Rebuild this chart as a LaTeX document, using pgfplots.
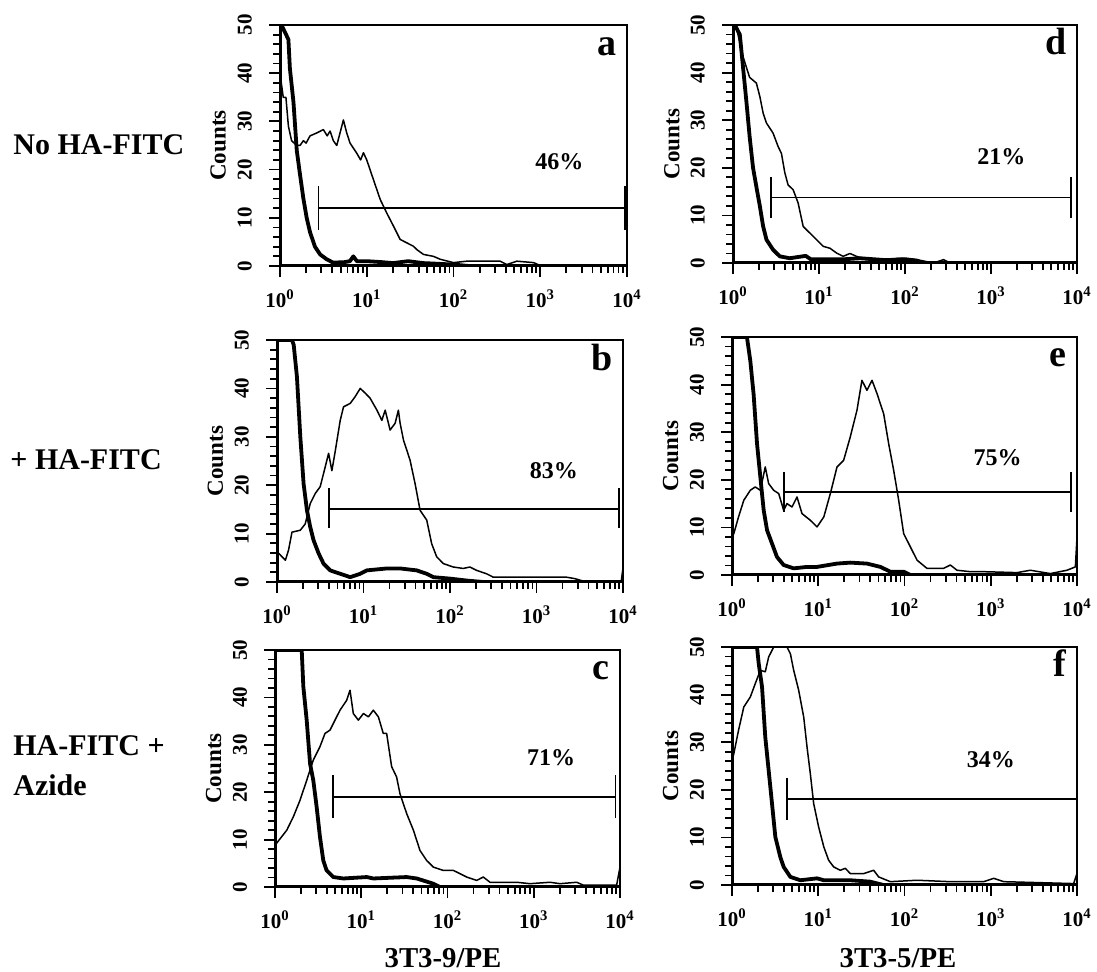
\documentclass[border=0pt]{standalone}
\usepackage{fontspec}
\setmainfont{Liberation Serif}
\usepackage{pgfplots}
\pgfplotsset{compat=1.18}

\pgfplotsset{every axis/.append style={
    scale only axis,
    anchor=south west,
    xmode=log,
    xmin=1, xmax=10000, ymin=0, ymax=50,
    xtick={1,10,100,1000,10000},
    xticklabels={10\textsuperscript{0},10\textsuperscript{1},10\textsuperscript{2},10\textsuperscript{3},10\textsuperscript{4}},
    minor xtick={2,3,4,5,6,7,8,9,20,30,40,50,60,70,80,90,200,300,400,500,600,700,800,900,2000,3000,4000,5000,6000,7000,8000,9000},
    ytick={0,10,20,30,40,50}, yticklabels={0,10,20,30,40,50},
    minor ytick={2,4,6,8,12,14,16,18,22,24,26,28,32,34,36,38,42,44,46,48},
    tick align=outside,
    xtick pos=bottom, ytick pos=left,
    major tick length=5.5pt, minor tick length=3.5pt,
    tick style={black, line width=0.9pt},
    xticklabel style={font=\fontsize{10.5}{11}\selectfont\bfseries, yshift=-3pt},
    yticklabel style={font=\fontsize{10.5}{11}\selectfont\bfseries, rotate=90, anchor=south, yshift=5pt},
    ylabel={Counts},
    ylabel style={font=\fontsize{11.5}{12}\selectfont\bfseries, at={(axis description cs:-0.178,0.5)}, anchor=center},
    axis line style={line width=1pt},
}}
\tikzset{
  ctrl/.style={black, line width=1.9pt, line join=round},
  samp/.style={black, line width=0.75pt, line join=round},
  gate/.style={black, line width=0.7pt},
}

% gate: x left, x right, y, tick low, tick high
\newcommand{\gate}[5]{%
  \addplot[gate] coordinates {(#1,#3) (#2,#3)};
  \addplot[gate] coordinates {(#1,#4) (#1,#5)};
  \addplot[gate] coordinates {(#2,#4) (#2,#5)};
}
\newcommand{\panel}[1]{%
  \draw[line width=2pt] (rel axis cs:0,1) -- (rel axis cs:0,0) -- (rel axis cs:1,0);
  \node[anchor=base east, inner sep=0pt, font=\fontsize{19}{20}\selectfont\bfseries] at (rel axis cs:0.97,0.875) {#1};}
\newcommand{\pct}[3]{\node[font=\fontsize{12}{13}\selectfont\bfseries] at (axis cs:#1,#2) {#3};}

\begin{document}
\begin{tikzpicture}
\useasboundingbox (0,0) rectangle (548.5pt,485.5pt);

% ---- a ----
\begin{axis}[at={(140pt,352.5pt)}, width=173.5pt, height=120.5pt]
\addplot[samp] coordinates {(1,40)(1.09,35)(1.17,35)(1.25,29)(1.36,26)(1.56,25)(1.70,25)(1.86,26)(2.0,25.5)(2.22,27)(2.65,27.6)(3.16,28.3)(3.5,27)(3.78,28)(4.12,26)(4.51,25)(4.92,27.6)(5.38,30.3)(5.88,27.6)(6.42,25.5)(7.67,23.4)(8.5,22)(9.16,23.5)(10,22)(11.9,18)(14.3,13.8)(17.0,11)(20.3,8.3)(24.3,5.5)(29,4.8)(34.5,4.1)(37.8,3.4)(45.1,2.4)(58.8,2)(70.2,1.4)(100,0.7)(142,1)(345,1)(412,0.3)(537,1)(838,0.7)(1000,0.1)(10000,0)};
\addplot[ctrl] coordinates {(1,50)(1.04,50)(1.25,47)(1.30,41)(1.43,34)(1.56,24)(1.70,19)(1.86,14)(2.03,10)(2.22,7)(2.53,4)(2.9,2.4)(3.45,1.4)(4.1,0.7)(5.5,0.8)(6.4,1)(7,2)(7.7,1)(10,1)(15,0.8)(20,0.6)(30,1)(45,0.6)(60,0.5)(100,0.3)(150,0)(10000,0)};
\gate{2.8}{9500}{12.0}{7.5}{16.5}
\pct{1660}{21.6}{46\%}
\panel{a}
\end{axis}

% ---- d ----
\begin{axis}[at={(366.5pt,354pt)}, width=172pt, height=119pt]
\addplot[samp] coordinates {(1,50)(1.11,49)(1.31,43.3)(1.56,39)(1.87,37.8)(2.05,35)(2.24,31.5)(2.45,29.4)(2.92,27.3)(3.34,24.5)(3.66,23)(4.0,19)(4.37,16.4)(5.0,15.4)(5.72,12.6)(6.54,7.7)(7.82,6.3)(9.35,4.9)(11.2,3.5)(13.4,3.1)(16,2.1)(19.1,1.4)(22.9,2)(27.3,1.4)(35.8,0.7)(55.9,0.7)(87.4,1)(137,0.7)(214,0)(280,0.7)(334,0)(10000,0)};
\addplot[ctrl] coordinates {(1,50)(1.05,50)(1.20,48)(1.31,41)(1.43,34)(1.56,26.6)(1.71,20)(1.87,16)(2.05,12)(2.24,7.7)(2.45,4.9)(2.92,2.8)(3.5,1.4)(4.57,1)(7,1.5)(8,0.8)(20,0.8)(30,1)(60,0.6)(100,0.8)(137,0.5)(160,0)(10000,0)};
\gate{2.77}{8500}{13.7}{9.5}{18.1}
\pct{1318}{22.3}{21\%}
\panel{d}
\end{axis}

% ---- b ----
\begin{axis}[at={(138.5pt,194.5pt)}, width=173pt, height=121pt]
\addplot[samp] coordinates {(1,6)(1.05,5.9)(1.25,4.5)(1.36,6.6)(1.49,10.3)(1.86,10.7)(2.12,12)(2.42,16.2)(2.77,18.3)(3.16,19.7)(3.61,23.8)(3.95,26.6)(4.31,23)(4.71,27)(5.38,33.4)(5.88,36.2)(7.02,36.9)(8.01,38.3)(9.16,40)(10.5,39)(11.9,38)(14.3,35.5)(16.3,33.4)(17.8,35.5)(20.3,31.4)(23.2,32.8)(25.3,35.5)(26.5,32.8)(29,29.3)(34.5,25.2)(39.5,20.3)(45.1,14.8)(53.8,12.8)(61.4,7.9)(70.2,5.2)(83.8,3.8)(109,3.1)(142,2.8)(170,3.1)(203,2.4)(265,1.7)(316,1)(588,1)(915,1)(1425,1)(2218,1)(2768,0.7)(3454,0.2)(9550,0.2)(10000,3)};
\addplot[ctrl] coordinates {(1,50)(1.49,50)(1.56,49)(1.70,42.4)(1.86,30)(2.03,20.3)(2.22,14.8)(2.42,11.4)(2.65,8.6)(3.03,5.9)(3.45,3.8)(4.12,2.4)(5.38,1.7)(7.02,1)(9.16,1.7)(10.9,2.4)(18.6,2.8)(26.5,2.8)(41.2,2.4)(53.8,1.7)(64.2,1)(100,0.7)(156,0.3)(242,0)(10000,0)};
\gate{4.0}{8950}{15.1}{11.2}{19.4}
\pct{1585}{22.9}{83\%}
\panel{b}
\end{axis}

% ---- e ----
\begin{axis}[at={(366pt,198pt)}, width=172.5pt, height=119pt]
\addplot[samp] coordinates {(1,8)(1.05,8.7)(1.19,12.2)(1.37,15.7)(1.63,17.8)(1.86,18.5)(2.13,17.8)(2.43,22.7)(2.66,19.2)(3.04,17.8)(3.48,17.1)(3.97,13.6)(4.34,15)(4.96,14.3)(5.67,16.4)(6.48,12.9)(8.09,11.5)(9.68,10.1)(11.6,12.2)(13.8,17.1)(16.5,22.7)(19.7,24.1)(23.5,29)(28.1,34.6)(32.1,40.9)(36.7,38.8)(42,40.9)(48,38.1)(57.3,33.9)(65.5,27.6)(74.9,22)(85.6,15.7)(97.8,8.7)(117,5.9)(140,3.1)(182,1.4)(284,1.4)(340,2.1)(406,1)(580,0.7)(828,0.7)(2015,0.5)(2877,1)(4909,0.3)(7650,1)(9570,1.7)(10000,8)};
\addplot[ctrl] coordinates {(1,50)(1.49,50)(1.63,45)(1.78,38)(1.95,27.6)(2.13,20.6)(2.33,13.6)(2.55,9.4)(2.91,6.6)(3.32,3.8)(3.97,2.1)(5.19,1.4)(7.41,1.7)(9.68,1.7)(16.5,2.4)(23.5,2.6)(36.7,2.4)(52.5,1.7)(68.5,0.7)(97.8,0.7)(117,0)(10000,0)};
\gate{4.0}{8500}{17.4}{13.2}{21.6}
\pct{1202}{24.6}{75\%}
\panel{e}
\end{axis}

% ---- c ----
\begin{axis}[at={(137.5pt,42pt)}, width=172.5pt, height=118.5pt]
\addplot[samp] coordinates {(1,8.5)(1.04,9.2)(1.37,12)(1.63,14.8)(1.95,18.3)(2.33,22.5)(2.78,26.8)(3.32,29.6)(3.8,32.4)(4.34,33.1)(4.96,35.2)(5.67,37.3)(6.78,39.4)(7.41,41.5)(8.09,36.6)(9.25,35.2)(10.6,36.6)(12.1,35.9)(13.8,37.3)(15.8,35.9)(18,32.4)(19.7,32.4)(22.5,25.4)(25.7,23.2)(28.1,19.7)(33.6,15.5)(40.2,12)(48,7.7)(57.3,5.6)(68.5,4.2)(89.5,3.5)(117,3.5)(140,2.8)(167,2.1)(218,1.4)(260,2.1)(311,1)(634,1)(904,0.7)(1543,1)(2015,0.7)(3147,1)(3758,0.4)(9140,0.4)(10000,4.2)};
\addplot[ctrl] coordinates {(1,50)(2.04,50)(2.13,42.3)(2.33,35.2)(2.55,26)(2.78,22.5)(3.04,16.9)(3.32,10.6)(3.63,5.6)(3.97,3.5)(4.75,2.1)(6.2,1.8)(11.6,2.1)(13.8,1.8)(33.6,2.1)(43.9,1.8)(68.5,0.7)(81.8,0)(10000,0)};
\gate{4.7}{8900}{19.0}{14.6}{23.6}
\pct{1585}{27.2}{71\%}
\panel{c}
\end{axis}

% ---- f ----
\begin{axis}[at={(366pt,43pt)}, width=172.5pt, height=119pt]
\addplot[samp] coordinates {(1,26)(1.05,27.6)(1.19,32.5)(1.37,37.4)(1.63,39.5)(1.86,42.3)(2.13,45.1)(2.43,44.8)(2.66,47.9)(3.04,50)(4.34,50)(4.75,48.6)(5.19,45.1)(5.93,40.9)(6.78,35.3)(7.41,29)(8.09,23.4)(8.85,17.1)(10.1,12.2)(11.6,8)(13.2,5.2)(15.1,3.8)(18,3.1)(20.6,3.5)(23.5,2.4)(33.6,2.4)(43.9,3.1)(50.1,1.7)(68.5,0.7)(140,1)(340,0.7)(828,0.7)(1081,1.4)(1413,0.7)(9140,0.3)(10000,2.4)};
\addplot[ctrl] coordinates {(1,50)(1.95,50)(2.04,46.5)(2.23,41.6)(2.43,31.1)(2.66,24.1)(2.91,17.1)(3.18,10.1)(3.63,5.9)(3.97,3.8)(4.75,1.7)(6.2,1)(9.68,1.4)(11.6,1)(23.5,1)(40.2,0.7)(57.3,0)(10000,0)};
\gate{4.35}{10000}{18.1}{13.7}{22.5}
\pct{1000}{26.3}{34\%}
\panel{f}
\end{axis}

% row and column labels
\node[anchor=base west, inner sep=0pt, font=\fontsize{15}{16}\selectfont\bfseries] at (6.5pt,408pt) {No HA-FITC};
\node[anchor=base west, inner sep=0pt, font=\fontsize{15}{16}\selectfont\bfseries] at (5pt,251pt) {+ HA-FITC};
\node[anchor=base west, inner sep=0pt, font=\fontsize{15}{16}\selectfont\bfseries] at (6.5pt,108pt) {HA-FITC +};
\node[anchor=base west, inner sep=0pt, font=\fontsize{15}{16}\selectfont\bfseries] at (6.5pt,88pt) {Azide};
\node[anchor=base, inner sep=0pt, font=\fontsize{14.4}{15}\selectfont\bfseries] at (221.5pt,2pt) {3T3-9/PE};
\node[anchor=base, inner sep=0pt, font=\fontsize{14.4}{15}\selectfont\bfseries] at (449pt,2pt) {3T3-5/PE};
\end{tikzpicture}
\end{document}
